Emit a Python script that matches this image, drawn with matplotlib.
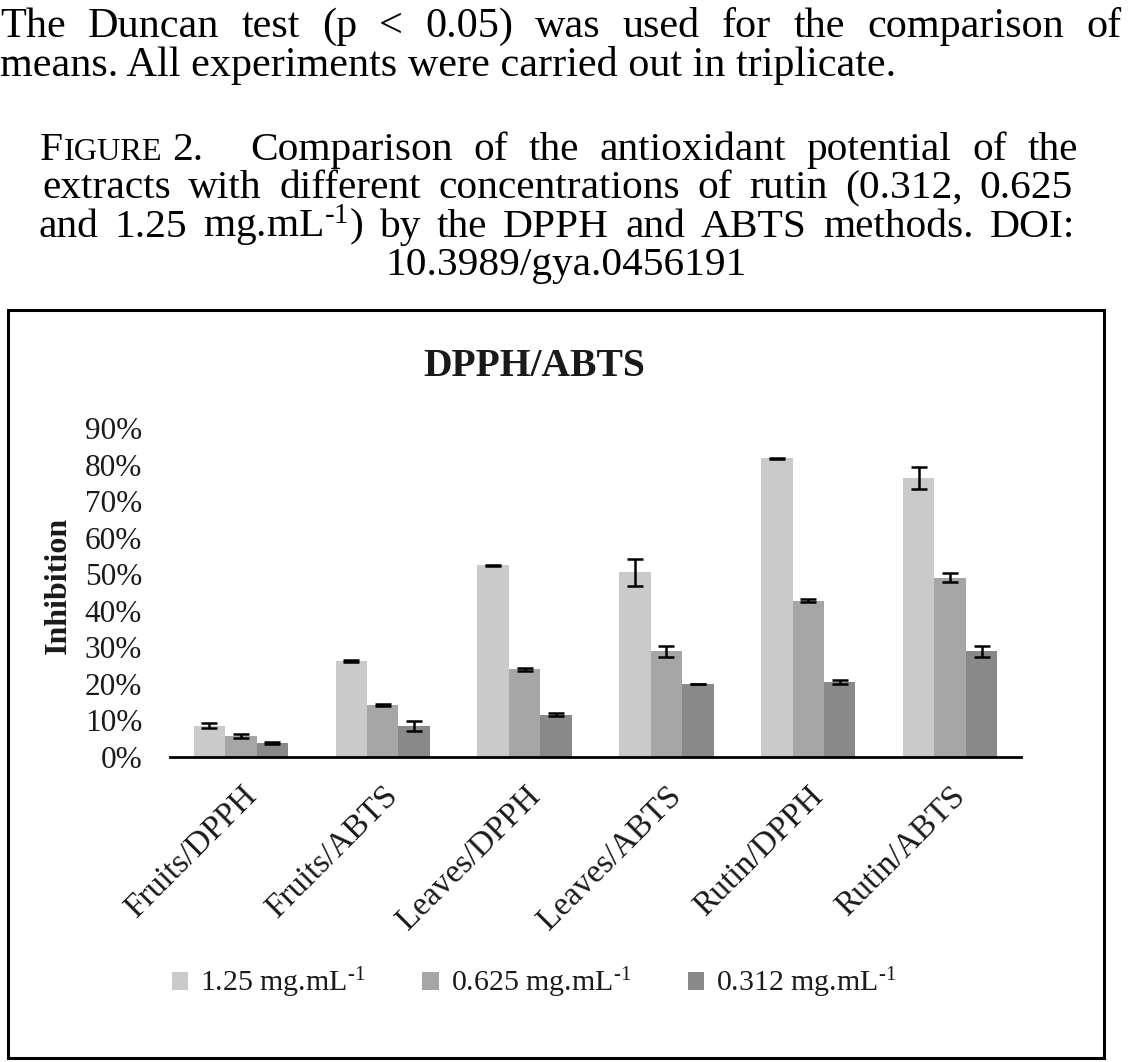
import numpy as np
import matplotlib.pyplot as plt
from matplotlib.patches import Rectangle, Patch

plt.rcParams['font.family'] = ['Liberation Serif', 'DejaVu Serif']
plt.rcParams['mathtext.fontset'] = 'custom'
plt.rcParams['mathtext.rm'] = 'Liberation Serif'
plt.rcParams['mathtext.it'] = 'Liberation Serif:italic'
plt.rcParams['mathtext.bf'] = 'Liberation Serif:bold'

# data (percent inhibition, mean and error)
categories = ['Fruits/DPPH', 'Fruits/ABTS', 'Leaves/DPPH', 'Leaves/ABTS', 'Rutin/DPPH', 'Rutin/ABTS']
series_labels = ['1.25 mg.mL$^{\u20101}$', '0.625 mg.mL$^{\u20101}$', '0.312 mg.mL$^{\u20101}$']
conc_125 = [8.5, 26.2, 52.4, 50.5, 81.7, 76.2]
conc_0625 = [5.8, 14.3, 24.0, 28.9, 42.8, 49.1]
conc_0312 = [3.8, 8.5, 11.5, 20.0, 20.5, 28.9]
err_125 = [0.7, 0.3, 0.1, 3.6, 0.1, 3.0]
err_0625 = [0.6, 0.3, 0.4, 1.5, 0.5, 1.2]
err_0312 = [0.3, 1.4, 0.4, 0.1, 0.6, 1.5]
yticks = [0, 10, 20, 30, 40, 50, 60, 70, 80, 90]

colors = ['#cacaca', '#a6a6a6', '#898989']
txt_color = '#1a1a1a'

W, H = 1143, 1062
fig = plt.figure(figsize=(W / 100, H / 100), dpi=100)
renderer = fig.canvas.get_renderer()


def fx(px):
    return px / W


def fy(py):
    return 1 - py / H


def width_of(t):
    return t.get_window_extent(renderer).width


def fit_size(s, target, **kw):
    t = fig.text(0, 0, s, fontsize=20, **kw)
    w = width_of(t)
    t.remove()
    return 20 * target / w


def justify(line, x0, x1, base, fs):
    # spread the words of one line between x0 and x1 (pixels)
    words = line.split(' ')
    ts = [fig.text(0, fy(base), w_, fontsize=fs, va='baseline', ha='left', color='black') for w_ in words]
    widths = [width_of(t) for t in ts]
    gap = (x1 - x0 - sum(widths)) / (len(words) - 1)
    x = x0
    for t, w_ in zip(ts, widths):
        t.set_x(fx(x))
        x += w_ + gap


# ---- paragraph above the caption ----
para1 = 'The Duncan test (p < 0.05) was used for the comparison of'
para2 = 'means. All experiments were carried out in triplicate.'
fs_para = fit_size(para2, 917) * 0.98
fig.text(fx(0), fy(76), para2, fontsize=fs_para, va='baseline', ha='left', color='black')
justify(para1, 0, 1121, 37, fs_para)

# ---- caption ----
cap1 = 'Comparison of the antioxidant potential of the'
cap2 = 'extracts with different concentrations of rutin (0.312, 0.625'
cap3 = 'and 1.25 mg.mL$^{\u20101}$) by the DPPH and ABTS methods. DOI:'
cap4 = '10.3989/gya.0456191'
fs_cap = fit_size(cap2, 1031) * 0.95
justify(cap2, 42, 1073, 198, fs_cap)
justify(cap3, 38, 1075, 237, fs_cap)
fig.text(fx(566), fy(275), cap4, fontsize=fs_cap, ha='center', va='baseline')
# first line with small caps "Figure 2."
x = 40
for s, f in [('F', fs_cap), ('IGURE', fs_cap * 0.78)]:
    t = fig.text(fx(x), fy(160), s, fontsize=f, ha='left', va='baseline')
    x += width_of(t) + 1
fig.text(fx(x + 8), fy(160), '2.', fontsize=fs_cap, ha='left', va='baseline')
justify(cap1, 250, 1078, 160, fs_cap)

# ---- chart box ----
fig.patches.append(Rectangle((fx(8), fy(1058)), fx(1104) - fx(8), fy(310) - fy(1058),
                             transform=fig.transFigure, fill=False, ec='black', lw=2.2))

fig.text(fx(534), fy(366), 'DPPH/ABTS', fontsize=28.5, fontweight='bold', ha='center', va='center',
         color=txt_color)
fig.text(fx(58), fy(585), 'Inhibition', fontsize=23, fontweight='bold', rotation=90,
         ha='center', va='center', color=txt_color)

ax = fig.add_axes([fx(170), fy(757), fx(1021) - fx(170), fy(428) - fy(757)])
x = np.arange(len(categories))
bw = 0.222
for k, (vals, errs) in enumerate([(conc_125, err_125), (conc_0625, err_0625), (conc_0312, err_0312)]):
    pos = x + (k - 1) * bw
    ax.bar(pos, vals, bw, color=colors[k], zorder=2)
    ax.errorbar(pos, vals, yerr=errs, fmt='none', ecolor='black', elinewidth=1.8,
                capsize=5.5, capthick=1.8, zorder=3)

ax.set_xlim(-0.5, len(categories) - 0.5)
ax.set_ylim(0, 90)
ax.set_yticks(yticks)
ax.set_yticklabels([f'{v}%' for v in yticks], fontsize=22.5, color=txt_color)
ax.set_xticks(x)
ax.set_xticklabels(categories, rotation=45, ha='right', va='top', rotation_mode='anchor',
                   fontsize=24, color=txt_color)
ax.tick_params(axis='y', length=0, pad=20)
ax.tick_params(axis='x', length=0, pad=17)
for side in ['top', 'right', 'left']:
    ax.spines[side].set_visible(False)
ax.spines['bottom'].set_linewidth(2)
ax.spines['bottom'].set_color('black')
ax.set_facecolor('none')

handles = [Patch(facecolor=c, edgecolor='none') for c in colors]
fig.legend(handles, series_labels, loc='center', bbox_to_anchor=(fx(534), fy(983)), ncol=3,
           frameon=False, fontsize=21.5, handlelength=0.55, handleheight=0.55, handletextpad=0.4,
           columnspacing=1.9, labelcolor=txt_color)

fig.savefig('out.png', dpi=100)
